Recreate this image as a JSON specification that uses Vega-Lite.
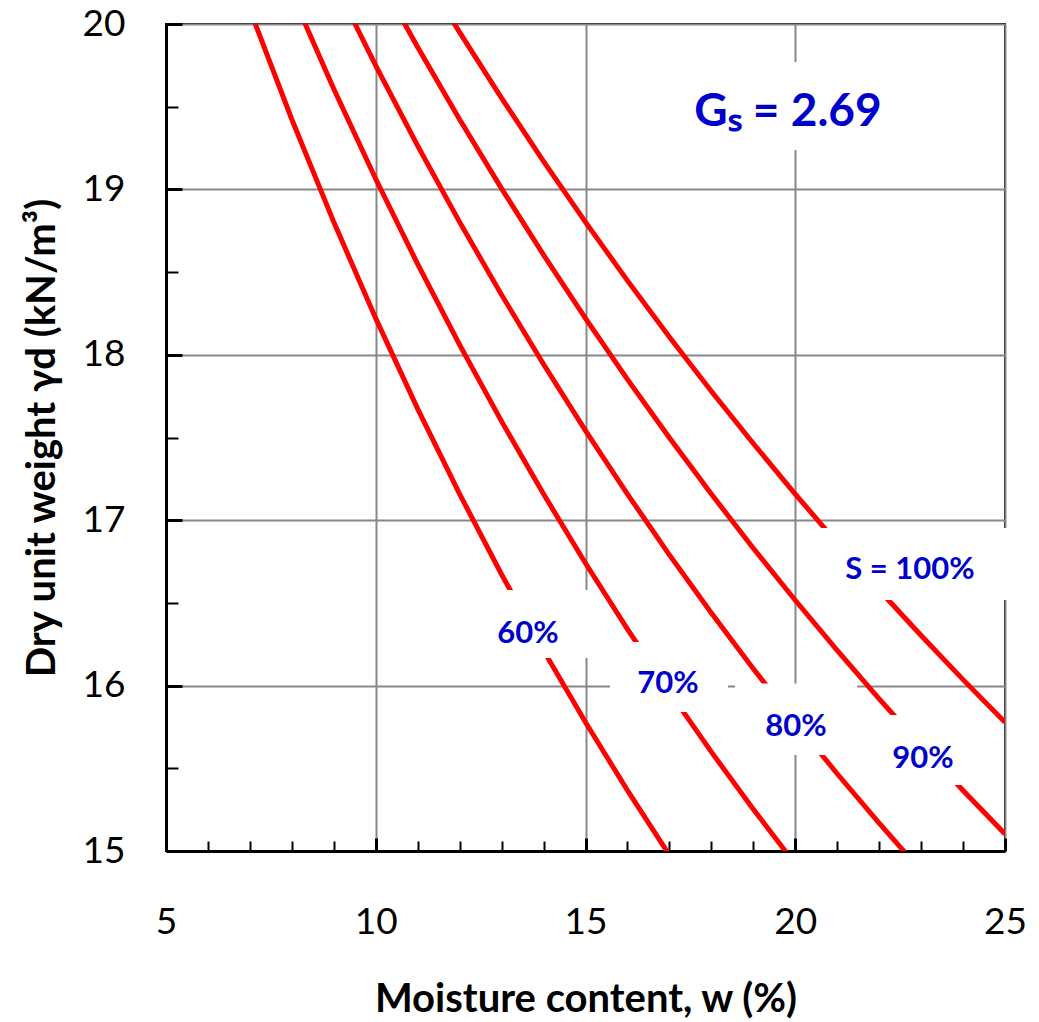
{
  "$schema": "https://vega.github.io/schema/vega-lite/v6.json",
  "width": 839,
  "height": 827,
  "autosize": {"type": "none"},
  "padding": {"left": 166, "top": 24, "right": 34, "bottom": 171},
  "background": "white",
  "config": {"view": {"stroke": "black", "strokeWidth": 2}, "font": "Lato"},
  "datasets": {
    "curves": [
      {"S": "60%", "w": 7, "gd": 20.0854}, {"S": "60%", "w": 8, "gd": 19.4227}, {"S": "60%", "w": 9, "gd": 18.8022},
      {"S": "60%", "w": 10, "gd": 18.2202}, {"S": "60%", "w": 11, "gd": 17.6731}, {"S": "60%", "w": 12, "gd": 17.1579},
      {"S": "60%", "w": 13, "gd": 16.672}, {"S": "60%", "w": 14, "gd": 16.2127}, {"S": "60%", "w": 15, "gd": 15.7781},
      {"S": "60%", "w": 16, "gd": 15.3662}, {"S": "60%", "w": 17, "gd": 14.9753},
      {"S": "70%", "w": 8, "gd": 20.1838}, {"S": "70%", "w": 9, "gd": 19.6075}, {"S": "70%", "w": 10, "gd": 19.0632},
      {"S": "70%", "w": 11, "gd": 18.5483}, {"S": "70%", "w": 12, "gd": 18.0605}, {"S": "70%", "w": 13, "gd": 17.5976},
      {"S": "70%", "w": 14, "gd": 17.1579}, {"S": "70%", "w": 15, "gd": 16.7397}, {"S": "70%", "w": 16, "gd": 16.3413},
      {"S": "70%", "w": 17, "gd": 15.9615}, {"S": "70%", "w": 18, "gd": 15.5989}, {"S": "70%", "w": 19, "gd": 15.2524},
      {"S": "70%", "w": 20, "gd": 14.921},
      {"S": "80%", "w": 9, "gd": 20.2582}, {"S": "80%", "w": 10, "gd": 19.7485}, {"S": "80%", "w": 11, "gd": 19.2637},
      {"S": "80%", "w": 12, "gd": 18.8022}, {"S": "80%", "w": 13, "gd": 18.3623}, {"S": "80%", "w": 14, "gd": 17.9424},
      {"S": "80%", "w": 15, "gd": 17.5415}, {"S": "80%", "w": 16, "gd": 17.1579}, {"S": "80%", "w": 17, "gd": 16.7908},
      {"S": "80%", "w": 18, "gd": 16.4391}, {"S": "80%", "w": 19, "gd": 16.1018}, {"S": "80%", "w": 20, "gd": 15.7781},
      {"S": "80%", "w": 21, "gd": 15.4671}, {"S": "80%", "w": 22, "gd": 15.1682}, {"S": "80%", "w": 23, "gd": 14.8806},
      {"S": "90%", "w": 10, "gd": 20.3165}, {"S": "90%", "w": 11, "gd": 19.8595}, {"S": "90%", "w": 12, "gd": 19.4227},
      {"S": "90%", "w": 13, "gd": 19.0045}, {"S": "90%", "w": 14, "gd": 18.6041}, {"S": "90%", "w": 15, "gd": 18.2202},
      {"S": "90%", "w": 16, "gd": 17.8518}, {"S": "90%", "w": 17, "gd": 17.498}, {"S": "90%", "w": 18, "gd": 17.1579},
      {"S": "90%", "w": 19, "gd": 16.8308}, {"S": "90%", "w": 20, "gd": 16.516}, {"S": "90%", "w": 21, "gd": 16.2127},
      {"S": "90%", "w": 22, "gd": 15.9204}, {"S": "90%", "w": 23, "gd": 15.6384}, {"S": "90%", "w": 24, "gd": 15.3662},
      {"S": "90%", "w": 25, "gd": 15.1033},
      {"S": "100%", "w": 11, "gd": 20.3634}, {"S": "100%", "w": 12, "gd": 19.9492}, {"S": "100%", "w": 13, "gd": 19.5517},
      {"S": "100%", "w": 14, "gd": 19.1696}, {"S": "100%", "w": 15, "gd": 18.8022}, {"S": "100%", "w": 16, "gd": 18.4486},
      {"S": "100%", "w": 17, "gd": 18.1081}, {"S": "100%", "w": 18, "gd": 17.7799}, {"S": "100%", "w": 19, "gd": 17.4634},
      {"S": "100%", "w": 20, "gd": 17.1579}, {"S": "100%", "w": 21, "gd": 16.863}, {"S": "100%", "w": 22, "gd": 16.5781},
      {"S": "100%", "w": 23, "gd": 16.3025}, {"S": "100%", "w": 24, "gd": 16.036}, {"S": "100%", "w": 25, "gd": 15.7781}
    ],
    "labels": [
      {"kind": "s", "text": "60%", "w": 13.63, "gd": 16.312, "w1": 12.2, "w2": 15.08, "g1": 16.578, "g2": 16.167},
      {"kind": "s", "text": "70%", "w": 16.967, "gd": 16.01, "w1": 15.584, "w2": 18.397, "g1": 16.264, "g2": 15.84},
      {"kind": "s", "text": "80%", "w": 20.018, "gd": 15.75, "w1": 18.564, "w2": 21.472, "g1": 16.012, "g2": 15.58},
      {"kind": "s", "text": "90%", "w": 23.045, "gd": 15.556, "w1": 21.615, "w2": 24.476, "g1": 15.822, "g2": 15.399},
      {"kind": "s", "text": "S = 100%", "w": 22.735, "gd": 16.699, "w1": 20.42, "w2": 25.05, "g1": 16.953, "g2": 16.518},
      {"kind": "gs", "text": "Gₛ = 2.69", "w": 19.827, "gd": 19.468, "w1": 17.253, "w2": 22.402, "g1": 19.77, "g2": 19.238}
    ]
  },
  "layer": [
    {
      "data": {"name": "curves"},
      "mark": {"type": "line", "color": "#FF0000", "strokeWidth": 5, "clip": true},
      "encoding": {
        "x": {
          "field": "w", "type": "quantitative",
          "scale": {"domain": [5, 25], "nice": false, "zero": false},
          "axis": {
            "title": "Moisture content, w (%)",
            "values": [5,6,7,8,9,10,11,12,13,14,15,16,17,18,19,20,21,22,23,24,25],
            "labelExpr": "datum.value % 5 === 0 ? format(datum.value, 'd') : ''",
            "labelOverlap": false, "labelFlush": false, "labelBound": false,
            "grid": true, "gridColor": "#888888", "gridWidth": 2,
            "gridOpacity": {"condition": {"test": "datum.value % 5 !== 0", "value": 0}, "value": 1},
            "domainColor": "black", "domainWidth": 3,
            "tickColor": "black",
            "tickSize": {"condition": {"test": "datum.value % 5 === 0", "value": -13}, "value": -10},
            "tickWidth": {"condition": {"test": "datum.value % 5 === 0", "value": 3}, "value": 2},
            "labelFont": "Lato", "labelFontSize": 37, "labelColor": "black", "labelPadding": 66,
            "titleFont": "Lato", "titleFontSize": 40, "titleFontWeight": "bold", "titleColor": "black", "titlePadding": 36
          }
        },
        "y": {
          "field": "gd", "type": "quantitative",
          "scale": {"domain": [15, 20], "nice": false, "zero": false},
          "axis": {
            "title": "Dry unit weight γd (kN/m³)",
            "values": [15,15.5,16,16.5,17,17.5,18,18.5,19,19.5,20],
            "labelExpr": "datum.value % 1 === 0 ? format(datum.value, 'd') : ''",
            "labelOverlap": false, "labelFlush": false, "labelBound": false,
            "grid": true, "gridColor": "#888888", "gridWidth": 2,
            "gridOpacity": {"condition": {"test": "datum.value % 1 !== 0", "value": 0}, "value": 1},
            "domainColor": "black", "domainWidth": 3,
            "tickColor": "black",
            "tickSize": {"condition": {"test": "datum.value % 1 === 0", "value": -16}, "value": -12},
            "tickWidth": {"condition": {"test": "datum.value % 1 === 0", "value": 3}, "value": 2},
            "labelFont": "Lato", "labelFontSize": 37, "labelColor": "black", "labelPadding": 57,
            "titleFont": "Lato", "titleFontSize": 40, "titleFontWeight": "bold", "titleColor": "black", "titlePadding": 20
          }
        },
        "detail": {"field": "S"}
      }
    },
    {
      "data": {"name": "labels"},
      "mark": {"type": "rect", "fill": "white", "stroke": null},
      "encoding": {
        "x": {"field": "w1", "type": "quantitative"},
        "x2": {"field": "w2"},
        "y": {"field": "g1", "type": "quantitative"},
        "y2": {"field": "g2"}
      }
    },
    {
      "data": {"name": "labels"},
      "transform": [{"filter": "datum.kind === 's'"}],
      "mark": {"type": "text", "font": "Lato", "fontWeight": "bold", "fontSize": 31, "color": "#0000CC", "align": "center", "baseline": "middle"},
      "encoding": {
        "x": {"field": "w", "type": "quantitative"},
        "y": {"field": "gd", "type": "quantitative"},
        "text": {"field": "text"}
      }
    },
    {
      "data": {"name": "labels"},
      "transform": [{"filter": "datum.kind === 'gs'"}],
      "mark": {"type": "text", "font": "Lato", "fontWeight": "bold", "fontSize": 46, "color": "#0000CC", "align": "center", "baseline": "middle"},
      "encoding": {
        "x": {"field": "w", "type": "quantitative"},
        "y": {"field": "gd", "type": "quantitative"},
        "text": {"field": "text"}
      }
    }
  ]
}
